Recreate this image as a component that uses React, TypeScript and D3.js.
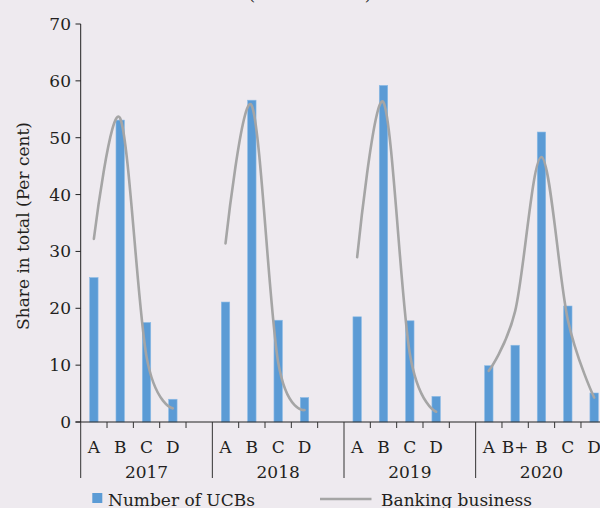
import React from "react";
import * as d3 from "d3";

const years = ["2017", "2018", "2019", "2020"];
const yearCategories = [
  ["A", "B", "C", "D"],
  ["A", "B", "C", "D"],
  ["A", "B", "C", "D"],
  ["A", "B+", "B", "C", "D"],
];
const ucbShares = [
  [25.4, 53.1, 17.5, 4.0],
  [21.1, 56.6, 17.9, 4.3],
  [18.5, 59.2, 17.8, 4.5],
  [9.9, 13.5, 51.0, 20.4, 5.1],
];
const businessShares = [
  [32.2, 53.4, 11.5, 2.4],
  [31.4, 55.6, 10.5, 2.1],
  [29.0, 56.2, 12.0, 1.8],
  [9.0, 19.5, 46.6, 18.0, 4.3],
];
const yTicks = [0, 10, 20, 30, 40, 50, 60, 70];
const slotsPerYear = 5;
const seriesNames = ["Number of UCBs", "Banking business"];

const W = 600;
const H = 508;
const FONT = "'DejaVu Serif', serif";
const TXT = "#231f20";
const BAR = "#5b9bd5";
const LINE = "#a5a5a5";

export default function App() {
  const slotIds: string[] = [];
  years.forEach((y, yi) => {
    for (let s = 0; s < slotsPerYear; s++) slotIds.push(`${y}-${s}`);
  });

  const x = d3.scaleBand<string>().domain(slotIds).range([80.7, 607.3]).paddingInner(0).paddingOuter(0);
  const y = d3.scaleLinear().domain([0, 70]).range([422, 24]);
  const bw = x.bandwidth();
  const barW = bw * 0.32;

  const line = d3
    .line<[number, number]>()
    .x((d) => d[0])
    .y((d) => d[1])
    .curve(d3.curveCardinal.tension(0));

  const bars: React.ReactNode[] = [];
  const lines: React.ReactNode[] = [];
  const catLabels: React.ReactNode[] = [];
  const yearLabels: React.ReactNode[] = [];
  const ticks: React.ReactNode[] = [];

  years.forEach((yr, yi) => {
    const cats = yearCategories[yi];
    const pts: [number, number][] = [];
    cats.forEach((c, ci) => {
      const id = `${yr}-${ci}`;
      const cx = (x(id) as number) + bw / 2;
      bars.push(
        <rect
          key={`b-${id}`}
          x={cx - barW / 2}
          y={y(ucbShares[yi][ci])}
          width={barW}
          height={y(0) - y(ucbShares[yi][ci])}
          fill={BAR}
          stroke="#8cbbe6"
          strokeWidth={0.6}
        />
      );
      pts.push([cx, y(businessShares[yi][ci])]);
      catLabels.push(
        <text key={`c-${id}`} x={cx} y={452.5} textAnchor="middle" fontSize={17} fill={TXT}>
          {c}
        </text>
      );
    });
    lines.push(
      <path key={`l-${yr}`} d={line(pts) || ""} fill="none" stroke={LINE} strokeWidth={2.6} strokeLinecap="round" />
    );
    const gx0 = x(`${yr}-0`) as number;
    const gx1 = (x(`${yr}-${slotsPerYear - 1}`) as number) + bw;
    yearLabels.push(
      <text key={`y-${yr}`} x={(gx0 + gx1) / 2} y={478} textAnchor="middle" fontSize={17} fill={TXT}>
        {yr}
      </text>
    );
  });

  slotIds.forEach((id, i) => {
    const bx = x(id) as number;
    if (i % slotsPerYear === 0) {
      ticks.push(<line key={`t-${id}`} x1={bx} x2={bx} y1={422} y2={478} stroke="#333" strokeWidth={1} />);
    } else {
      ticks.push(<line key={`t-${id}`} x1={bx} x2={bx} y1={422} y2={428} stroke="#333" strokeWidth={1} />);
    }
  });

  return (
    <svg
      width={W}
      height={H}
      style={{ position: "absolute", left: 0, top: 0, background: "#eeeaef" }}
      fontFamily={FONT}
    >
      <rect x={0} y={0} width={W} height={H} fill="#eeeaef" />
      <text x={310} y={0} textAnchor="middle" fontSize={17} fill={TXT} textLength={123} lengthAdjust="spacing">
        (End-March)
      </text>
      {/* y axis */}
      <line x1={80.7} x2={80.7} y1={24} y2={422} stroke="#222" strokeWidth={1} />
      {yTicks.map((t) => (
        <g key={`yt-${t}`}>
          <line x1={75.5} x2={80.7} y1={y(t)} y2={y(t)} stroke="#222" strokeWidth={1} />
          <text x={71} y={y(t) + 6} textAnchor="end" fontSize={17} fill={TXT}>
            {t}
          </text>
        </g>
      ))}
      <text
        transform={`translate(29,${226}) rotate(-90)`}
        textAnchor="middle"
        fontSize={17}
        fill={TXT}
      >
        Share in total (Per cent)
      </text>
      {bars}
      {lines}
      {/* x axis */}
      <line x1={75.5} x2={W} y1={422} y2={422} stroke="#222" strokeWidth={1} />
      {ticks}
      {catLabels}
      {yearLabels}
      {/* legend */}
      <rect x={92.3} y={493} width={10} height={10} fill={BAR} />
      <text x={108} y={505.5} fontSize={17} fill={TXT}>
        {seriesNames[0]}
      </text>
      <line x1={320} x2={371.5} y1={499} y2={499} stroke={LINE} strokeWidth={2.6} />
      <text x={381} y={505.5} fontSize={17} fill={TXT}>
        {seriesNames[1]}
      </text>
    </svg>
  );
}
